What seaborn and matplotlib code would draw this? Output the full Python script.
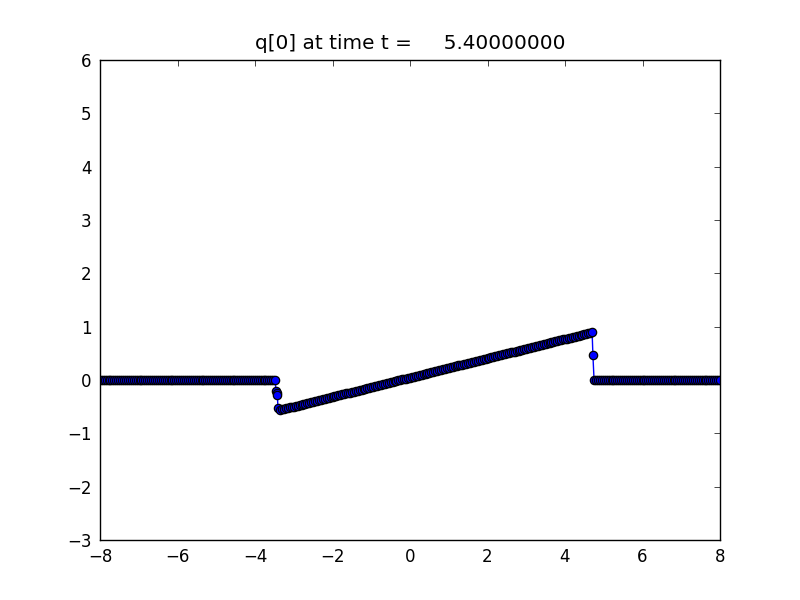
import numpy as np
import pandas as pd
import matplotlib
matplotlib.use("Agg")
import matplotlib.pyplot as plt
import seaborn as sns

# ---- data ----
x_left = np.round(np.arange(91) * 0.05 - 7.98, 3)          # flat left state
q_left = [0.0] * 91

x_shock_l = [-3.46, -3.44, -3.42, -3.41]
q_shock_l = [-0.20, -0.25, -0.29, -0.52]

x_ramp = np.round(np.arange(162) * 0.05 - 3.35, 3)        # rarefaction fan
q_ramp = [
    -0.560, -0.551, -0.542, -0.533, -0.524, -0.515, -0.506, -0.497, -0.488, -0.479,
    -0.470, -0.461, -0.452, -0.443, -0.433, -0.424, -0.415, -0.406, -0.397, -0.388,
    -0.379, -0.370, -0.361, -0.352, -0.343, -0.334, -0.325, -0.316, -0.307, -0.298,
    -0.289, -0.280, -0.271, -0.262, -0.253, -0.244, -0.235, -0.226, -0.217, -0.207,
    -0.198, -0.189, -0.180, -0.171, -0.162, -0.153, -0.144, -0.135, -0.126, -0.117,
    -0.108, -0.099, -0.090, -0.081, -0.072, -0.063, -0.054, -0.045, -0.036, -0.027,
    -0.018, -0.009, 0.001, 0.010, 0.019, 0.028, 0.037, 0.046, 0.055, 0.064,
    0.073, 0.082, 0.091, 0.100, 0.109, 0.118, 0.127, 0.136, 0.145, 0.154,
    0.163, 0.172, 0.181, 0.190, 0.199, 0.208, 0.217, 0.227, 0.236, 0.245,
    0.254, 0.263, 0.272, 0.281, 0.290, 0.299, 0.308, 0.317, 0.326, 0.335,
    0.344, 0.353, 0.362, 0.371, 0.380, 0.389, 0.398, 0.407, 0.416, 0.425,
    0.434, 0.443, 0.453, 0.462, 0.471, 0.480, 0.489, 0.498, 0.507, 0.516,
    0.525, 0.534, 0.543, 0.552, 0.561, 0.570, 0.579, 0.588, 0.597, 0.606,
    0.615, 0.624, 0.633, 0.642, 0.651, 0.660, 0.669, 0.679, 0.688, 0.697,
    0.706, 0.715, 0.724, 0.733, 0.742, 0.751, 0.760, 0.769, 0.778, 0.787,
    0.796, 0.805, 0.814, 0.823, 0.832, 0.841, 0.850, 0.859, 0.868, 0.877,
    0.886, 0.895,
]

x_shock_r = [4.72]
q_shock_r = [0.47]

x_right = np.round(np.arange(66) * 0.05 + 4.75, 3)         # flat right state
q_right = [0.0] * 66

title_text = "q[0] at time t =     5.40000000"

# ---- build table ----
x_all = np.concatenate([x_left, x_shock_l, x_ramp, x_shock_r, x_right])
q_all = np.concatenate([q_left, q_shock_l, q_ramp, q_shock_r, q_right])
df = pd.DataFrame({"x": x_all, "q": q_all})

sns.set_style("white")
plt.rcParams.update({
    "font.family": ["DejaVu Sans"],
    "font.size": 12,
    "text.color": "black",
    "axes.labelcolor": "black",
    "axes.titlecolor": "black",
    "axes.edgecolor": "black",
    "axes.linewidth": 1.0,
    "xtick.direction": "in",
    "ytick.direction": "in",
    "xtick.top": True,
    "ytick.right": True,
    "xtick.major.size": 4,
    "ytick.major.size": 4,
    "xtick.major.width": 0.5,
    "ytick.major.width": 0.5,
    "xtick.color": "black",
    "ytick.color": "black",
    "xtick.labelsize": 12,
    "ytick.labelsize": 12,
})

fig = plt.figure(figsize=(8, 6), dpi=100, facecolor="white")
ax = fig.add_axes([0.125, 0.1, 0.775, 0.8])

sns.lineplot(data=df, x="x", y="q", ax=ax, estimator=None, sort=False,
             color="blue", linewidth=1.0, marker="o", markersize=6,
             markerfacecolor="blue", markeredgecolor="black",
             markeredgewidth=0.9)

ax.set_xlim(-8, 8)
ax.set_ylim(-3, 6)
ax.set_xticks([-8, -6, -4, -2, 0, 2, 4, 6, 8])
ax.set_yticks([-3, -2, -1, 0, 1, 2, 3, 4, 5, 6])
ax.set_xlabel("")
ax.set_ylabel("")
ax.tick_params(pad=6)
for s in ax.spines.values():
    s.set_visible(True)
    s.set_color("black")
ax.set_title(title_text, fontsize=14.4, pad=8, color="black")

fig.savefig("out.png", dpi=100, facecolor="white")
